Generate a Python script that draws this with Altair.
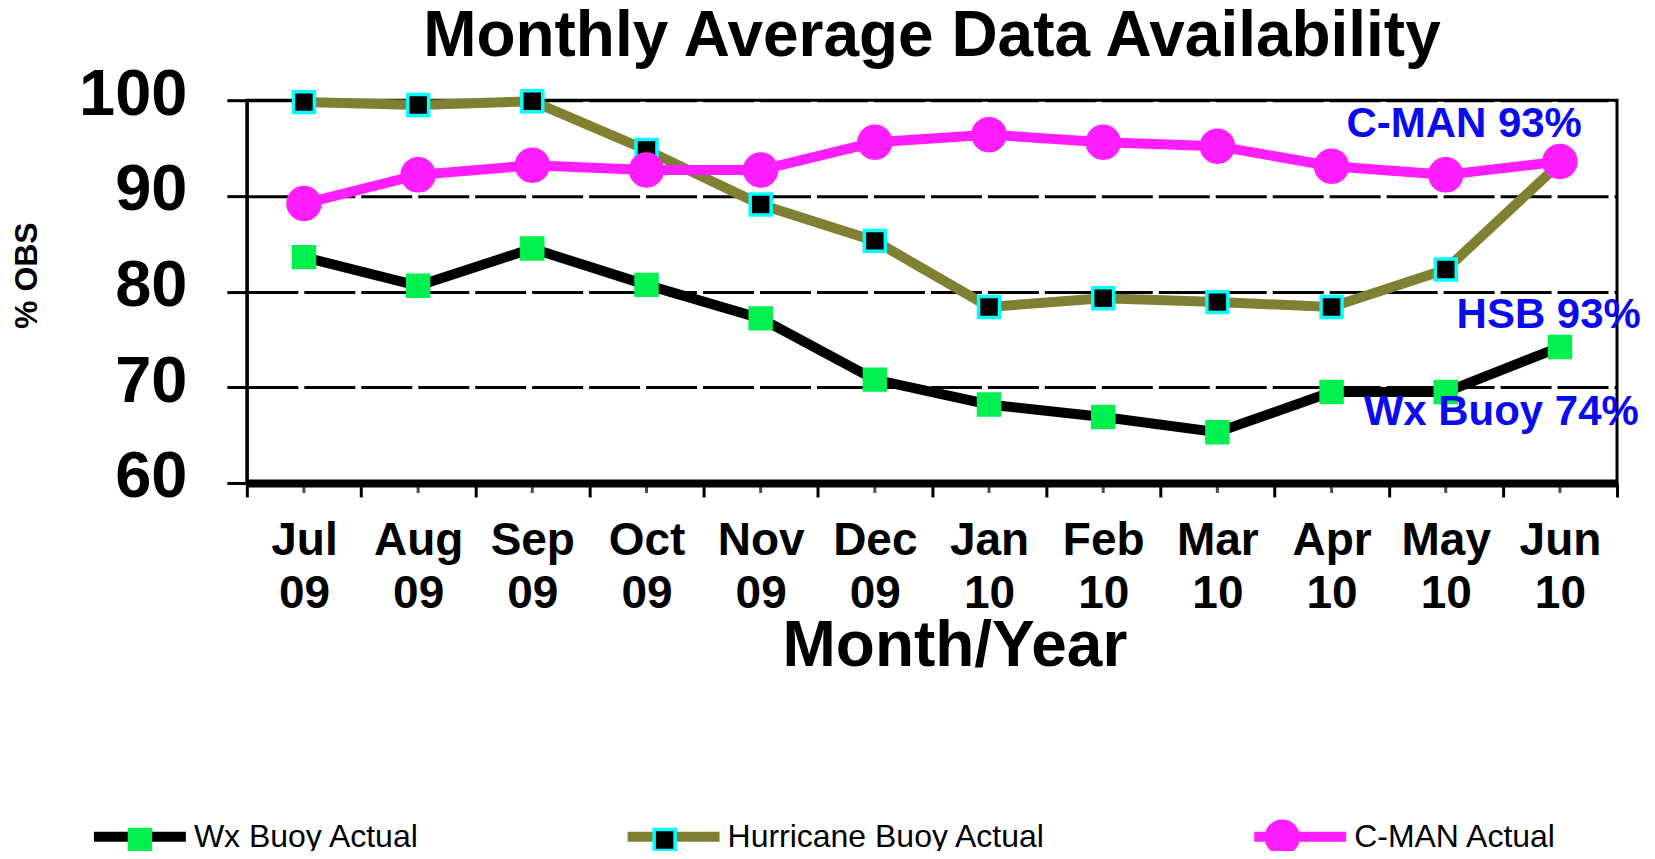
import altair as alt
import pandas as pd

months = ["Jul 09", "Aug 09", "Sep 09", "Oct 09", "Nov 09", "Dec 09",
          "Jan 10", "Feb 10", "Mar 10", "Apr 10", "May 10", "Jun 10"]
series = ["Wx Buoy Actual", "Hurricane Buoy Actual", "C-MAN Actual"]
wx_buoy = [83.6, 80.6, 84.5, 80.7, 77.2, 70.8, 68.2, 66.9, 65.3, 69.5, 69.5, 74.2]
hurricane_buoy = [99.8, 99.5, 99.9, 94.8, 89.1, 85.3, 78.4, 79.3, 78.9, 78.4, 82.3, 93.4]
cman = [89.2, 92.2, 93.2, 92.7, 92.7, 95.6, 96.4, 95.6, 95.2, 93.1, 92.2, 93.6]
annot_labels = ["C-MAN 93%", "HSB 93%", "Wx Buoy 74%"]
annot_values = [96.14, 76.19, 66.06]
y_ticks = [60, 70, 80, 90, 100]

FONT = "Liberation Sans"
line_colors = ["#000000", "#808033", "#FF1EFF"]
fill_colors = ["#00F050", "#000000", "#FF1EFF"]
stroke_colors = ["#00F050", "#00FFFF", "#FF1EFF"]
SQ = "M-1,0M1,0M-0.213,-0.213L0.213,-0.213L0.213,0.213L-0.213,0.213Z"
CI = "M-1,0M1,0M-0.325,0A0.325,0.325,0,1,0,0.325,0A0.325,0.325,0,1,0,-0.325,0Z"
shapes = [SQ, SQ, CI]
# marker legend uses its own (space-suffixed) domain so it is drawn as a separate
# legend exactly on top of the line legend
marker_names = [s + " " for s in series]

rows = []
for name, mname, vals in zip(series, marker_names, [wx_buoy, hurricane_buoy, cman]):
    for m, v in zip(months, vals):
        rows.append({"month": m, "value": v, "series": name, "marker": mname})
df = pd.DataFrame(rows)

x_axis = alt.Axis(
    tickBand="extent", ticks=True, tickSize=14, tickWidth=3, tickColor="black",
    domainWidth=8, domainColor="black", grid=False,
    labelExpr="split(datum.label, ' ')", labelFont=FONT, labelFontSize=46,
    labelFontWeight="bold", labelColor="black", labelLineHeight=53,
    labelPadding=22, labelAngle=0, labelBaseline="top",
    title="Month/Year", titleFont=FONT, titleFontSize=64, titleFontWeight="bold",
    titleColor="black", titlePadding=-2, titleX=708,
)
y_axis = alt.Axis(
    values=y_ticks, grid=True, gridColor="black", gridWidth=3, gridDash=[51, 6],
    domainColor="black", domainWidth=3, tickColor="black", tickWidth=3, tickSize=20,
    labelFont=FONT, labelFontSize=65, labelFontWeight="bold", labelColor="black",
    labelPadding=40, labelOffset=-6, labelFlush=False, labelOverlap=False,
    title="% OBS", titleFont=FONT, titleFontSize=32, titleFontWeight="bold",
    titleColor="black", titlePadding=35, titleY=175,
)
x_enc = alt.X("month:N", sort=months,
              scale=alt.Scale(type="band", domain=months, paddingInner=0, paddingOuter=0),
              axis=x_axis)
y_scale = alt.Scale(domain=[60, 100], nice=False, zero=False)
y_enc = alt.Y("value:Q", scale=y_scale, axis=y_axis)

LINE_W = 10
MARK_SIZE = 9702.25
legend_common = dict(
    orient="none", legendX=-158, legendY=686, direction="horizontal",
    title=None, padding=0, labelFont=FONT, labelFontSize=32, labelColor="black",
    labelOffset=3, columnPadding=188, labelLimit=1000,
)
legend_lines = alt.Legend(symbolType="stroke", symbolSize=8464, symbolStrokeWidth=LINE_W,
                          **legend_common)
legend_marks = alt.Legend(symbolSize=MARK_SIZE, symbolStrokeWidth=3.5, symbolOpacity=1,
                          labelOpacity=0, labelExpr="trim(datum.label)", **legend_common)

lines = alt.Chart(df).mark_line(strokeWidth=LINE_W).encode(
    x=x_enc, y=y_enc,
    color=alt.Color("series:N", scale=alt.Scale(domain=series, range=line_colors),
                    legend=legend_lines),
)
points = alt.Chart(df).mark_point(filled=True, size=MARK_SIZE, strokeWidth=3.5, opacity=1).encode(
    x=x_enc, y=y_enc,
    fill=alt.Fill("marker:N", scale=alt.Scale(domain=marker_names, range=fill_colors),
                  legend=legend_marks),
    stroke=alt.Stroke("marker:N", scale=alt.Scale(domain=marker_names, range=stroke_colors),
                      legend=legend_marks),
    shape=alt.Shape("marker:N", scale=alt.Scale(domain=marker_names, range=shapes),
                    legend=legend_marks),
)

minor_ticks = alt.Chart(pd.DataFrame({"month": months})).mark_tick(
    orient="vertical", size=12, thickness=3, color="black", yOffset=4
).encode(x=x_enc, y=alt.YDatum(y_ticks[0], scale=y_scale, axis=y_axis))

annot_dx = [22, 81, 79]
annots = []
for lab, val, dx in zip(annot_labels, annot_values, annot_dx):
    adf = pd.DataFrame({"month": [months[-1]], "value": [val], "label": [lab]})
    annots.append(
        alt.Chart(adf).mark_text(align="right", baseline="alphabetic", dx=dx,
                                 font=FONT, fontSize=42, fontWeight="bold",
                                 color="#0B0BF0")
        .encode(x=x_enc, y=y_enc, text="label:N")
    )

chart = alt.layer(lines, points, minor_ticks, *annots).properties(
    width=1371, height=383,
    autosize=alt.AutoSizeParams(type="none"),
    padding={"left": 239, "top": 92, "right": 30, "bottom": 368},
    title=alt.Title("Monthly Average Data Availability", font=FONT, fontSize=64,
                    fontWeight="bold", color="black", anchor="middle", frame="group",
                    offset=-7),
).configure(font=FONT).configure_view(stroke="black", strokeWidth=3)

chart.save("out.html", embed_options={"renderer": "svg", "actions": False})
